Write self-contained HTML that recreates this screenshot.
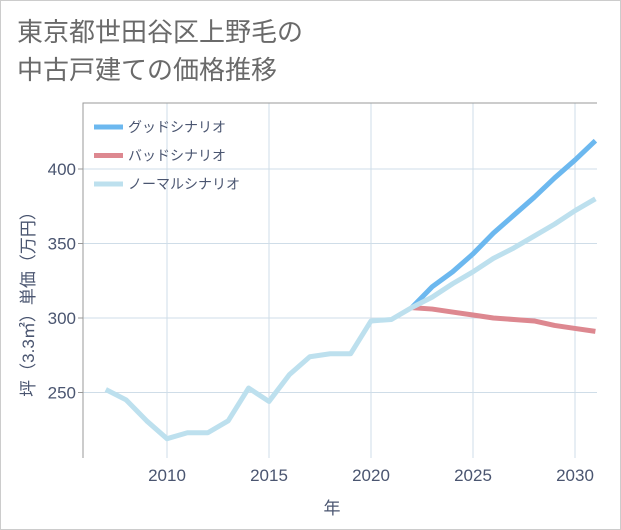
<!DOCTYPE html>
<html><head><meta charset="utf-8"><style>
body{margin:0;background:#fff;}
svg{display:block;font-family:"Liberation Sans","Noto Sans CJK JP",sans-serif;}
</style></head><body>
<svg id="chart" width="621" height="530">
<rect x="0.5" y="0.5" width="620" height="529" fill="#fff" stroke="#ccc"/>
<text x="17" y="41" font-size="26" fill="#6a6a6a">東京都世田谷区上野毛の</text>
<text x="17" y="79" font-size="26" fill="#6a6a6a">中古戸建ての価格推移</text>
<g id="grid"></g>
<g id="axes"></g>
<g id="series"></g>
<g id="legend"></g>
<text x="332" y="514" font-size="17" fill="#4a5570" text-anchor="middle">年</text>
<text transform="translate(34,300) rotate(-90)" font-size="17" fill="#4a5570" text-anchor="middle">坪（3.3㎡）単価（万円）</text>
</svg>
<script>
const years=[2007,2008,2009,2010,2011,2012,2013,2014,2015,2016,2017,2018,2019,2020,2021,2022,2023,2024,2025,2026,2027,2028,2029,2030,2031];
const normal=[252,245,231,219,223,223,231,253,244,262,274,276,276,298,299,307,314,323,331,340,347,355,363,372,380];
const futureYears=[2022,2023,2024,2025,2026,2027,2028,2029,2030,2031];
const good=[307,321,331,343,357,369,381,394,406,419];
const bad=[307,306,304,302,300,299,298,295,293,291];
const xTicks=[2010,2015,2020,2025,2030];
const yTicks=[250,300,350,400];
const L=83,R=597,T=103,B=458;
const xs=y=>167+(y-2010)*20.4;
const ys=v=>318-(v-300)*1.49;
const NS="http://www.w3.org/2000/svg";
function mk(tag,attrs,parent){const e=document.createElementNS(NS,tag);for(const k in attrs)e.setAttribute(k,attrs[k]);document.getElementById(parent).appendChild(e);return e;}
xTicks.forEach(t=>{
 const g=mk('line',{x1:xs(t),x2:xs(t),y1:T,y2:B,stroke:'#cfdde8'},'grid');
 
 
 const tx=mk('text',{x:xs(t),y:481,'font-size':17,fill:'#4a5570','text-anchor':'middle'},'axes');
 tx.textContent=t;
 
 
});
yTicks.forEach(t=>{
 const g=mk('line',{x1:L,x2:R,y1:ys(t),y2:ys(t),stroke:'#cfdde8'},'grid');
 
 
 const tk=mk('line',{x1:78,x2:L,y1:ys(t),y2:ys(t),stroke:'#999'},'axes');
 
 
 const tx=mk('text',{x:76,y:ys(t)+6,'font-size':17,fill:'#4a5570','text-anchor':'end'},'axes');
 tx.textContent=t;
 
 
});
const ax=mk('path',{d:`M${R},${T}H${L}V${B}`,fill:'none',stroke:'#999'},'axes');


function line(xv,yv,color,name){
 const p=mk('polyline',{points:xv.map((x,i)=>xs(x)+','+ys(yv[i])).join(' '),fill:'none',stroke:color,'stroke-width':5,'stroke-linejoin':'round','clip-path':'url(#clip)'},'series');
 
 
}
const cp=mk('clipPath',{id:'clip'},'series');const cr=document.createElementNS(NS,'rect');
cr.setAttribute('x',L);cr.setAttribute('y',T);cr.setAttribute('width',R-L);cr.setAttribute('height',B-T);cp.appendChild(cr);
line(futureYears,good,'#6cb8ef','good-scenario-line');
line(futureYears,bad,'#dd8890','bad-scenario-line');
line(years,normal,'#bde0ee','normal-scenario-line');
const leg=[['グッドシナリオ','#6cb8ef'],['バッドシナリオ','#dd8890'],['ノーマルシナリオ','#bde0ee']];
leg.forEach((l,i)=>{
 const y=127+i*28.5;
 const s=mk('line',{x1:94,x2:123,y1:y,y2:y,stroke:l[1],'stroke-width':5},'legend');
 
 
 const t=mk('text',{x:128,y:y+5,'font-size':14,fill:'#4a5570'},'legend');
 t.textContent=l[0];
 
 
});
</script>
</body></html>
